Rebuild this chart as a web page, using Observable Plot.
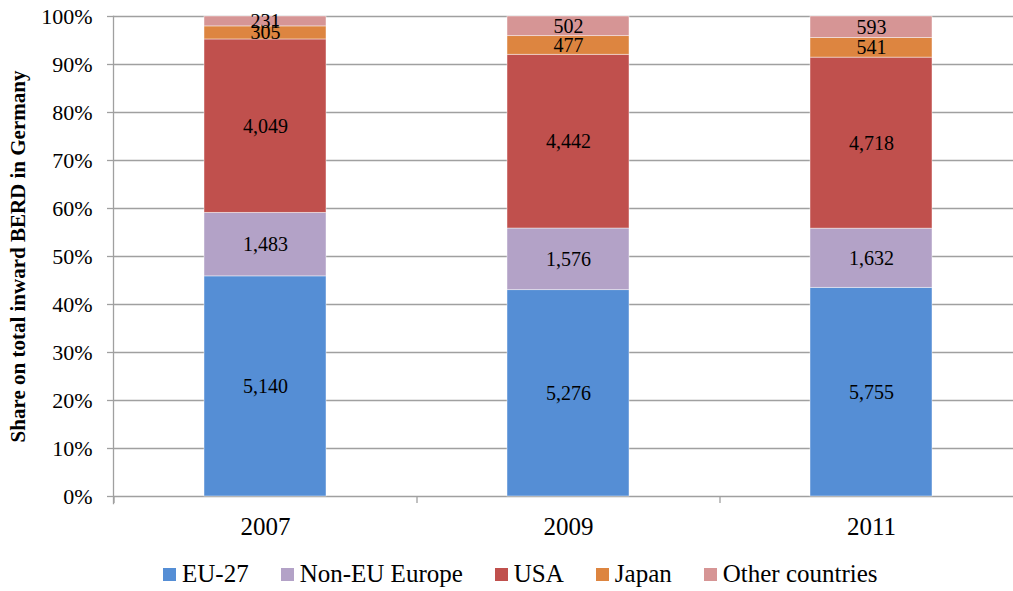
<!DOCTYPE html>
<html>
<head>
<meta charset="utf-8">
<script src="https://cdn.jsdelivr.net/npm/d3@7"></script>
<script src="https://cdn.jsdelivr.net/npm/@observablehq/plot@0.6"></script>
<style>
  body { margin: 0; background: #fff; font-family: "Liberation Serif", "Times New Roman", serif; }
  #chart { position: relative; width: 1013px; height: 591px; overflow: hidden; background: #fff; }
  #chart svg { display: block; }
  .legend { position: absolute; left: 163px; top: 560px; display: flex; align-items: center;
            font-size: 25px; line-height: 28px; color: #000; white-space: nowrap; }
  .legend .item { display: flex; align-items: center; margin-right: 32px; }
  .legend .sw { width: 13px; height: 13px; margin-right: 6px; }
</style>
</head>
<body>
<div id="chart"></div>
<script>
// Inward business R&D expenditure in Germany by investor region (EUR million)
const years = ["2007", "2009", "2011"];
const regions = ["EU-27", "Non-EU Europe", "USA", "Japan", "Other countries"];
const regionColors = ["#558ED5", "#B3A2C7", "#C0504D", "#DD8540", "#D69595"];

const eu27 = [5140, 5276, 5755];
const nonEuEurope = [1483, 1576, 1632];
const usa = [4049, 4442, 4718];
const japan = [305, 477, 541];
const otherCountries = [231, 502, 593];

const yTicks = [0, 0.1, 0.2, 0.3, 0.4, 0.5, 0.6, 0.7, 0.8, 0.9, 1];

const series = [eu27, nonEuEurope, usa, japan, otherCountries];
const data = [];
years.forEach((year, i) => {
  regions.forEach((region, j) => data.push({year, region, value: series[j][i]}));
});

const fontFamily = '"Liberation Serif", "Times New Roman", serif';
const gray = "#a0a0a0";
const xRange = [113, 1022];
const step = (xRange[1] - xRange[0]) / years.length;
const fmt = d3.format(",");

const stackOpts = {x: "year", y: "value", z: "region", order: regions, offset: "normalize"};

const plot = Plot.plot({
  width: 1013,
  height: 545,
  marginLeft: 113,
  marginRight: 0,
  marginTop: 16,
  marginBottom: 49,
  style: {fontFamily, color: "#000", background: "#fff", overflow: "visible"},
  x: {domain: years, range: xRange, paddingInner: 0.598, paddingOuter: 0.299, label: null},
  y: {domain: [0, 1], label: null},
  color: {domain: regions, range: regionColors},
  marks: [
    Plot.gridY(yTicks, {stroke: gray, strokeOpacity: 1, strokeWidth: 1.3}),
    Plot.barY(data, Plot.stackY({...stackOpts, fill: "region", stroke: "#fff", strokeWidth: 0.8, strokeOpacity: 0.55})),
    Plot.text(data, Plot.stackY({...stackOpts, text: d => fmt(d.value), fontSize: 20, fill: "#000"})),
    Plot.axisY({ticks: yTicks, tickFormat: d3.format(".0%"), tickSize: 6, tickPadding: 15,
                fontSize: 22, stroke: gray, strokeWidth: 1.3, label: null}),
    Plot.axisX({tickSize: 0, tickPadding: 21, fontSize: 25, label: null}),
    Plot.axisX({tickSize: 7, text: null, dx: -step / 2, stroke: gray, strokeWidth: 1.3, label: null}),
    Plot.frame({anchor: "left", stroke: gray, strokeWidth: 1.3, insetBottom: -7}),
    Plot.text(["Share on total inward BERD in Germany"], {
      frameAnchor: "left", dx: -95, rotate: -90, textAnchor: "middle",
      fontWeight: "bold", fontSize: 21, fill: "#000"
    })
  ]
});

const chart = document.getElementById("chart");
chart.appendChild(plot);

// Legend below the plot
const legend = document.createElement("div");
legend.className = "legend";
regions.forEach((r, i) => {
  const item = document.createElement("div");
  item.className = "item";
  const sw = document.createElement("span");
  sw.className = "sw";
  sw.style.background = regionColors[i];
  const label = document.createElement("span");
  label.textContent = r;
  item.appendChild(sw);
  item.appendChild(label);
  legend.appendChild(item);
});
chart.appendChild(legend);
</script>
</body>
</html>
